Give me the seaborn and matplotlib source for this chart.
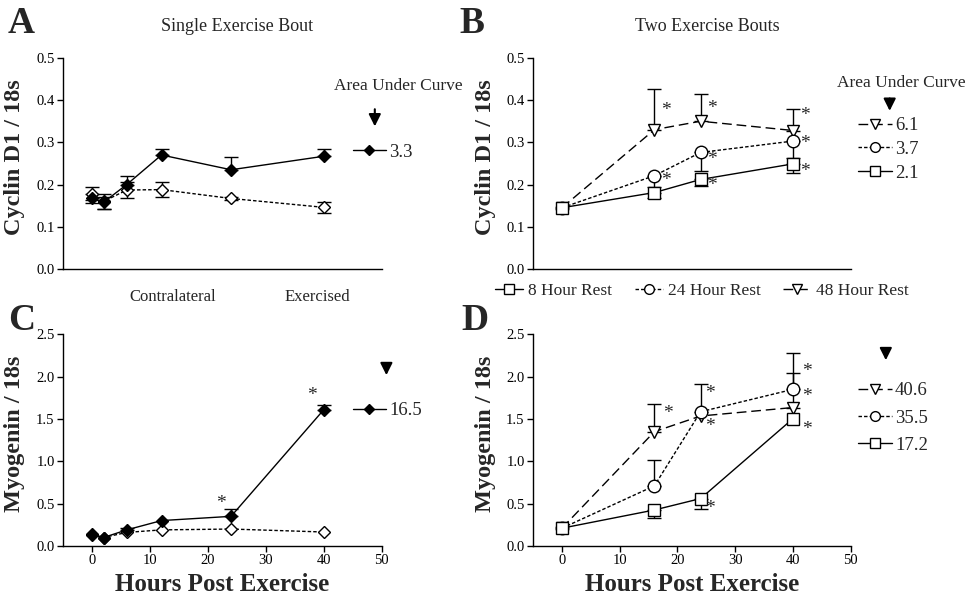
import numpy as np
import pandas as pd
import matplotlib
matplotlib.use("Agg")
import matplotlib.pyplot as plt
from matplotlib.lines import Line2D
from matplotlib.patches import FancyArrowPatch
import seaborn as sns

# ---------------- data ----------------
hours_single = [0, 2, 6, 12, 24, 40]
hours_two = [0, 16, 24, 40]

# A: cyclin D1, single bout
cyc_exer = [0.168, 0.158, 0.200, 0.270, 0.235, 0.267]
cyc_exer_lo = [0.011, 0.017, 0.0, 0.0, 0.0, 0.0]
cyc_exer_hi = [0.010, 0.012, 0.020, 0.014, 0.030, 0.018]
cyc_contra = [0.178, 0.160, 0.187, 0.188, 0.167, 0.146]
cyc_contra_err = [0.015, 0.018, 0.020, 0.017, 0.004, 0.013]

# C: myogenin, single bout
myo_exer = [0.14, 0.10, 0.19, 0.30, 0.35, 1.61]
myo_exer_hi = [0.0, 0.0, 0.02, 0.0, 0.09, 0.05]
myo_contra = [0.13, 0.10, 0.16, 0.19, 0.20, 0.165]

# B: cyclin D1, two bouts
cyc_8h = [0.145, 0.181, 0.212, 0.249]
cyc_8h_lo = [0.0, 0.013, 0.016, 0.022]
cyc_24h = [0.145, 0.221, 0.276, 0.303]
cyc_24h_lo = [0.0, 0.026, 0.044, 0.040]
cyc_48h = [0.145, 0.330, 0.350, 0.328]
cyc_48h_hi = [0.0, 0.096, 0.064, 0.052]

# D: myogenin, two bouts
myo_8h = [0.21, 0.425, 0.56, 1.505]
myo_8h_lo = [0.0, 0.09, 0.12, 0.0]
myo_24h = [0.21, 0.71, 1.585, 1.85]
myo_24h_hi = [0.0, 0.31, 0.33, 0.43]
myo_48h = [0.21, 1.35, 1.535, 1.635]
myo_48h_hi = [0.0, 0.33, 0.0, 0.41]

# significance stars (x, y)
stars_b = [(18, 0.375), (18, 0.209), (26, 0.38), (26, 0.26), (26, 0.198),
           (42, 0.364), (42, 0.297), (42, 0.23)]
stars_c = [(22.3, 0.50), (37.9, 1.78)]
stars_d = [(18.3, 1.56), (25.6, 1.795), (25.6, 1.41), (25.6, 0.445),
           (42.4, 2.06), (42.4, 1.76), (42.4, 1.37)]

auc_a = ["3.3"]
auc_c = ["16.5"]
auc_b = ["6.1", "3.7", "2.1"]
auc_d = ["40.6", "35.5", "17.2"]
rest_labels = ["8 Hour Rest", "24 Hour Rest", "48 Hour Rest"]

# ---------------- style ----------------
sns.set_theme(style="ticks")
plt.rcParams["font.family"] = ["Liberation Serif", "DejaVu Serif"]
plt.rcParams["axes.linewidth"] = 1.0
plt.rcParams["xtick.major.size"] = 4
plt.rcParams["ytick.major.size"] = 4
plt.rcParams["xtick.color"] = "black"
plt.rcParams["ytick.color"] = "black"
plt.rcParams["axes.edgecolor"] = "black"

DOT = (0, (2.5, 1.5))
DASH = (0, (7, 3.5))

fig = plt.figure(figsize=(9.66, 5.98), dpi=100)
axA = fig.add_axes([0.0652, 0.5502, 0.330, 0.353])
axB = fig.add_axes([0.5518, 0.5502, 0.329, 0.353])
axC = fig.add_axes([0.0652, 0.0870, 0.330, 0.354])
axD = fig.add_axes([0.5518, 0.0870, 0.329, 0.354])


def series(ax, x, y, marker, ls, filled, ms, lo=None, hi=None):
    df = pd.DataFrame({"x": x, "y": y})
    sns.lineplot(data=df, x="x", y="y", ax=ax, color="black", lw=1.0,
                 linestyle=ls, marker=marker, markersize=ms,
                 markerfacecolor="black" if filled else "white",
                 markeredgecolor="black", markeredgewidth=1.0,
                 errorbar=None, zorder=3)
    if lo is not None or hi is not None:
        lo = np.zeros(len(y)) if lo is None else np.array(lo)
        hi = np.zeros(len(y)) if hi is None else np.array(hi)
        m = (lo > 0) | (hi > 0)
        ax.errorbar(np.array(x)[m], np.array(y)[m], yerr=[lo[m], hi[m]],
                    fmt="none", ecolor="black", elinewidth=1.0, capsize=5,
                    capthick=1.0, zorder=2)


# A
series(axA, hours_single, cyc_contra, "D", DOT, False, 6.5, cyc_contra_err, cyc_contra_err)
series(axA, hours_single, cyc_exer, "D", "-", True, 6.5, cyc_exer_lo, cyc_exer_hi)
# C
series(axC, hours_single, myo_contra, "D", DOT, False, 6.5)
series(axC, hours_single, myo_exer, "D", "-", True, 6.5, None, myo_exer_hi)
# B
series(axB, hours_two, cyc_48h, "v", DASH, False, 9, None, cyc_48h_hi)
series(axB, hours_two, cyc_24h, "o", DOT, False, 9, cyc_24h_lo, None)
series(axB, hours_two, cyc_8h, "s", "-", False, 9, cyc_8h_lo, None)
# D
series(axD, hours_two, myo_48h, "v", DASH, False, 9, None, myo_48h_hi)
series(axD, hours_two, myo_24h, "o", DOT, False, 9, None, myo_24h_hi)
series(axD, hours_two, myo_8h, "s", "-", False, 9, myo_8h_lo, None)

for ax, pts in [(axB, stars_b), (axC, stars_c), (axD, stars_d)]:
    for sx, sy in pts:
        ax.text(sx, sy, "*", ha="center", va="center", fontsize=14)

# axes cosmetics
for ax in (axA, axB):
    ax.set_ylim(0, 0.5)
    ax.set_yticks(np.arange(0, 0.51, 0.1))
    ax.set_yticklabels([f"{v:.1f}" for v in np.arange(0, 0.51, 0.1)])
    ax.tick_params(axis="x", bottom=False, labelbottom=False)
    ax.set_xlabel("")
    ax.set_ylabel("Cyclin D1 / 18s", fontsize=17.5, fontweight="bold")
for ax in (axC, axD):
    ax.set_ylim(0, 2.5)
    ax.set_yticks(np.arange(0, 2.51, 0.5))
    ax.set_yticklabels([f"{v:.1f}" for v in np.arange(0, 2.51, 0.5)])
    ax.set_xticks([0, 10, 20, 30, 40, 50])
    ax.set_ylabel("Myogenin / 18s", fontsize=17.5, fontweight="bold")
    ax.set_xlabel("Hours Post Exercise", fontsize=18, fontweight="bold", labelpad=4)
for ax in (axA, axB, axC, axD):
    ax.set_xlim(-5, 50)
    sns.despine(ax=ax)
    ax.tick_params(labelsize=10.5, width=1.0, pad=2)
    ax.yaxis.set_label_coords(-0.118, 0.53)

# panel letters and titles
for lab, x, y in [("A", 0.008, 0.945), ("B", 0.476, 0.945), ("C", 0.008, 0.448), ("D", 0.478, 0.448)]:
    fig.text(x, y, lab, fontsize=27, fontweight="bold")
fig.text(0.245, 0.955, "Single Exercise Bout", ha="center", va="center", fontsize=13)
fig.text(0.732, 0.955, "Two Exercise Bouts", ha="center", va="center", fontsize=13)
fig.text(0.179, 0.503, "Contralateral", ha="center", va="center", fontsize=12)
fig.text(0.328, 0.503, "Exercised", ha="center", va="center", fontsize=12)

# area-under-curve legends
fig.text(0.412, 0.856, "Area Under Curve", ha="center", va="center", fontsize=12.5)
fig.text(0.933, 0.861, "Area Under Curve", ha="center", va="center", fontsize=12.5)
arrow = dict(arrowstyle="-|>", color="black", lw=1.5, mutation_scale=18)
for x, y0, y1 in [(0.388, 0.822, 0.784), (0.921, 0.840, 0.810),
                  (0.400, 0.397, 0.368), (0.917, 0.419, 0.393)]:
    fig.add_artist(FancyArrowPatch((x, y0), (x, y1), transform=fig.transFigure, **arrow))


def h(marker, ls, filled):
    return Line2D([], [], color="black", lw=1.0, linestyle=ls, marker=marker,
                  markersize=7 if marker != "D" else 5.5,
                  markerfacecolor="black" if filled else "white", markeredgecolor="black")


legkw = dict(frameon=False, fontsize=13.5, handlelength=1.8, handletextpad=0.15,
             borderaxespad=0, loc="upper left")
axA.legend([h("D", "-", True)], auc_a, bbox_to_anchor=(0.885, 0.63), **legkw)
axC.legend([h("D", "-", True)], auc_c, bbox_to_anchor=(0.885, 0.715), **legkw)
trio = [h("v", DASH, False), h("o", DOT, False), h("s", "-", False)]
lb = axB.legend(trio, auc_b, bbox_to_anchor=(1.0, 0.755), labelspacing=0.35, **legkw)
axD.legend(trio, auc_d, bbox_to_anchor=(1.0, 0.81), labelspacing=0.55, **legkw)
axB.add_artist(lb)
axB.legend(trio[::-1], rest_labels, ncol=3, frameon=False, fontsize=12.5,
           handlelength=1.6, handletextpad=0.3, columnspacing=1.3,
           loc="upper left", bbox_to_anchor=(-0.14, -0.035), borderaxespad=0)

fig.savefig("out.png", dpi=100)
